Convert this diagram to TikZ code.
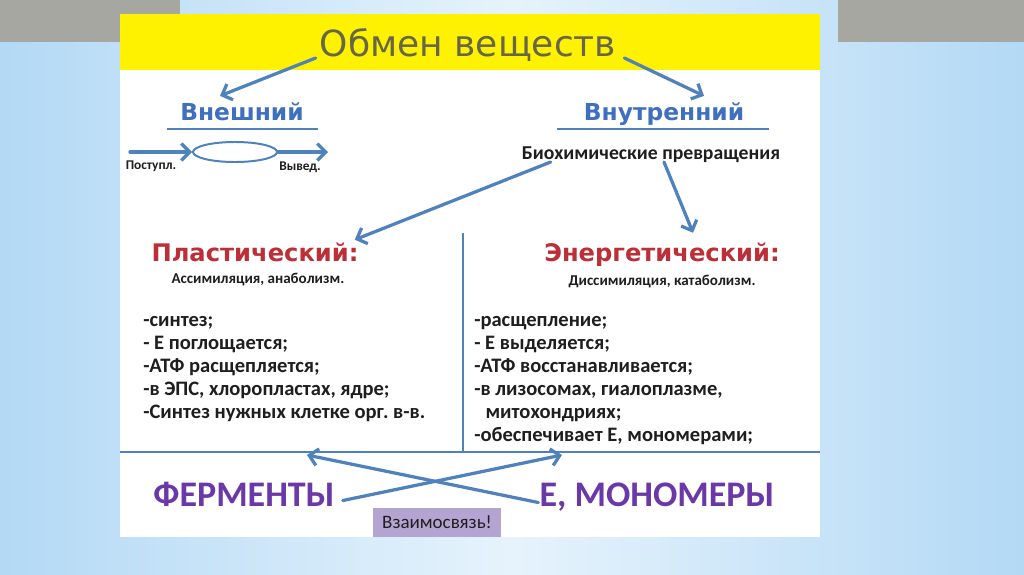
\documentclass[tikz,border=0pt]{standalone}
\usepackage{fontspec}
\setmainfont{Carlito}
\newfontfamily\widefont{DejaVu Sans}
\usetikzlibrary{arrows.meta,calc,shapes.geometric,positioning}
\frenchspacing

\definecolor{officeblue}{HTML}{4F81BD}
\definecolor{kindblue}{HTML}{3F6FBF}
\definecolor{titlegray}{HTML}{66664A}
\definecolor{headred}{HTML}{BD2F36}
\definecolor{fermpurple}{HTML}{6B38A8}
\definecolor{boxlilac}{HTML}{B4A4D2}
\definecolor{cornergray}{HTML}{A7A7A2}
\definecolor{skyedge}{HTML}{B3D9F5}
\definecolor{skymid}{HTML}{E6F3FC}
\definecolor{ink}{HTML}{1E1E1E}

\begin{document}
\begin{tikzpicture}[x=0.025cm, y=-0.025cm, inner sep=0pt,
    link/.style={draw=officeblue, line width=2.3pt, line cap=round, -{Straight Barb[length=6pt,width=12pt]}},
    rule/.style={draw=officeblue, line width=1.6pt},
    kind/.style={font=\widefont\bfseries\fontsize{16.6}{18}\selectfont, text=kindblue, anchor=base},
    phase/.style={font=\widefont\bfseries\fontsize{17.2}{19}\selectfont, text=headred, anchor=base},
    note/.style={font=\bfseries\fontsize{10.7}{12}\selectfont, text=ink, anchor=base},
    item/.style={font=\bfseries\fontsize{14.6}{16}\selectfont, text=ink, anchor=base west},
    big/.style={font=\bfseries\fontsize{25.6}{28}\selectfont, text=fermpurple, anchor=base}]
    \useasboundingbox (0,0) rectangle (1024,574);

    % фон и слайд
    \shade[left color=skyedge, right color=skyedge, middle color=skymid] (0,0) rectangle (1024,574);
    \fill[cornergray] (0,0) rectangle (180,42);
    \fill[cornergray] (838,0) rectangle (1024,42);
    \fill[white] (120,14) rectangle (820,537);
    \fill[yellow] (120,14) rectangle (820,70);

    % заголовок
    \node[font=\widefont\fontsize{25.6}{28}\selectfont, text=titlegray, anchor=base] (obmen) at (468,56) {Обмен веществ};

    % внешний и внутренний обмен
    \node[kind] (vnesh) at (242,120) {Внешний};
    \node[kind] (vnutr) at (664,120) {Внутренний};
    \draw[rule] (167,129) -- (318,129);
    \draw[rule] (557,129) -- (769,129);
    \draw[link] ($(obmen.base west)+(-4,2)$) -- ($(vnesh.north)+(-22,-6)$);
    \draw[link] ($(obmen.base east)+(8,2)$) -- ($(vnutr.north)+(40,-6)$);

    % поступление и выведение
    \node[ellipse, draw=officeblue, line width=1.4pt, minimum width=2.1cm, minimum height=0.5cm] (cell) at (235,152) {};
    \coordinate (inflow) at (130,152);
    \coordinate (outflow) at (328,152);
    \draw[link] (inflow) -- (cell.west);
    \draw[link] (cell.east) -- (outflow);
    \node[note, font=\bfseries\fontsize{9.5}{11}\selectfont] (postup) at (151,169) {Поступл.};
    \node[note, font=\bfseries\fontsize{9.5}{11}\selectfont] (vyved) at (300,170) {Вывед.};

    % биохимические превращения
    \node[note, font=\bfseries\fontsize{14}{16}\selectfont] (bioch) at (651,159) {Биохимические превращения};

    % пластический и энергетический обмен
    \node[phase] (plast) at (255,261.5) {Пластический:};
    \node[note] (assim) at (258,283.5) {Ассимиляция, анаболизм.};
    \node[phase] (energ) at (662,261.5) {Энергетический:};
    \node[note] (dissim) at (662,285.5) {Диссимиляция, катаболизм.};
    \draw[link] ($(bioch.base west)+(29,3)$) -- ($(plast.north east)+(-4,-3)$);
    \draw[link] ($(bioch.base)+(13,3)$) -- ($(energ.north)+(31,-10)$);

    % списки
    \foreach \txt [count=\i] in {{-синтез;}, {- Е поглощается;}, {-АТФ расщепляется;},
        {-в ЭПС, хлоропластах, ядре;}, {-Синтез нужных клетке орг. в-в.}}
        \node[item] (pl\i) at (143,303+23*\i) {\txt};
    \foreach \txt [count=\i] in {{-расщепление;}, {- Е выделяется;}, {-АТФ восстанавливается;},
        {-в лизосомах, гиалоплазме,}, {\hspace*{8pt}митохондриях;}, {-обеспечивает Е, мономерами;}}
        \node[item] (en\i) at (474,303+23*\i) {\txt};

    % разделители
    \draw[rule] (463,233) -- (463,452);
    \draw[officeblue, line width=2pt] (120,452) -- (820,452);

    % ферменты и мономеры
    \node[big] (ferm) at (244,506.5) {ФЕРМЕНТЫ};
    \node[big] (mono) at (657,506.5) {Е, МОНОМЕРЫ};
    \coordinate (upL) at (307,455);
    \coordinate (upR) at (562,455);
    \draw[link] ($(ferm.base east)+(8,-6)$) -- (upR);
    \draw[link] ($(mono.base west)+(-1,-4)$) -- (upL);
    \node[fill=boxlilac, minimum width=3.18cm, minimum height=0.725cm, font=\fontsize{13.5}{15}\selectfont, text=ink] (vzaim) at (437,522) {Взаимосвязь!};
\end{tikzpicture}
\end{document}
